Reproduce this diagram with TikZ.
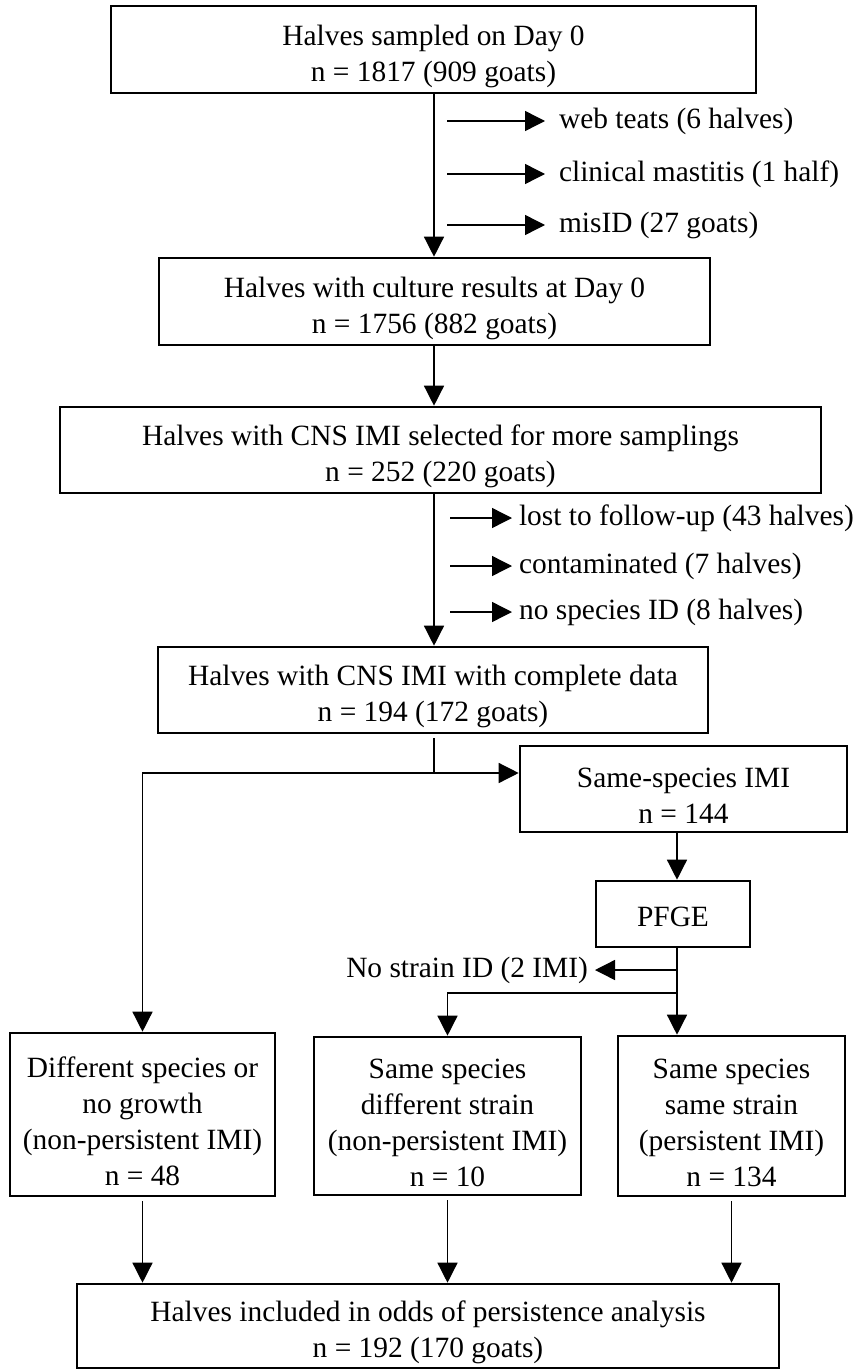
\documentclass[tikz,border=0pt]{standalone}
\usepackage{fontspec}
\setmainfont{Liberation Serif}
\usetikzlibrary{arrows.meta,calc,positioning}

\begin{document}
\begin{tikzpicture}[x = 0.5pt, y = -0.5pt,
        font = \fontsize{14.7}{18}\selectfont,
        box/.style = {draw, line width = 1.3pt, align = center, inner sep = 0pt},
        conn/.style = {line width = 0.7pt, -{Triangle[length = 10pt, width = 10pt]}},
        exclude/.style = {anchor = west},
    ]

        \def\toppad{\rule{0pt}{16.8pt}}

        \useasboundingbox (0, 0) rectangle (859, 1370);

        \coordinate (spine)  at (434, 0);
        \coordinate (spineR) at (677, 0);

        % main boxes
        \node[box, minimum width = 322.5pt, minimum height = 43.5pt] (day0) at (433.5, 49.5) {\toppad Halves sampled on Day 0\\n = 1817 (909 goats)};
        \node[box, minimum width = 275.5pt, minimum height = 43.5pt] (culture) at (434.5, 301.5) {\toppad Halves with culture results at Day 0\\n = 1756 (882 goats)};
        \node[box, minimum width = 380.5pt, minimum height = 43pt] (cnssel) at (440.5, 450) {\toppad Halves with CNS IMI selected for more samplings\\n = 252 (220 goats)};
        \node[box, minimum width = 275pt, minimum height = 43pt] (cnsdata) at (433, 690) {\toppad Halves with CNS IMI with complete data\\n = 194 (172 goats)};
        \node[box, minimum width = 163.5pt, minimum height = 43pt] (same) at (683.5, 789) {\toppad Same-species IMI\\n = 144};
        \node[box, minimum width = 77pt, minimum height = 33pt] (pfge) at (673, 914) {\rule{0pt}{13pt}PFGE};

        % outcome boxes
        \node[box, minimum width = 132.5pt, minimum height = 81.5pt] (diff) at (142.5, 1114.5) {\toppad Different species or\\no growth\\(non-persistent IMI)\\n = 48};
        \node[box, minimum width = 133.5pt, minimum height = 79pt] (diffstrain) at (447.5, 1116) {\toppad Same species\\different strain\\(non-persistent IMI)\\n = 10};
        \node[box, minimum width = 113.5pt, minimum height = 80pt] (samestrain) at (731.5, 1116) {\toppad Same species\\same strain\\(persistent IMI)\\n = 134};
        \node[box, minimum width = 351pt, minimum height = 42pt] (incl) at (428, 1326) {\toppad Halves included in odds of persistence analysis\\n = 192 (170 goats)};

        % main flow
        \draw[conn] (day0.south -| spine) -- (culture.north -| spine);
        \draw[conn] (culture.south -| spine) -- (cnssel.north -| spine);
        \draw[conn] (cnssel.south -| spine) -- (cnsdata.north -| spine);

        % exclusions
        \foreach \y/\lbl/\txt in {121/webteats/web teats (6 halves), 174/mastitis/clinical mastitis (1 half), 225/misid/misID (27 goats)} {
            \node[exclude] (\lbl) at (552, \y) {\txt};
            \draw[conn, shorten >= 3.5pt] ($(spine |- \lbl.west) + (13, 0)$) -- (\lbl.west);
        }
        \foreach \y/\lbl/\txt in {518/lost/lost to follow-up (43 halves), 566/contam/contaminated (7 halves), 612/nospecies/no species ID (8 halves)} {
            \node[exclude] (\lbl) at (512, \y) {\txt};
            \draw[conn] ($(spine |- \lbl.west) + (16, 0)$) -- (\lbl.west);
        }

        % split by species
        \coordinate (split) at (434, 773);
        \draw[conn, shorten <= 2pt] (cnsdata.south -| spine) -- (split) -- (split -| same.west);
        \draw[conn] (split) -- (split -| diff.north) -- (diff.north);

        % PFGE branch
        \node[anchor = east] (nostrain) at (595, 970) {No strain ID (2 IMI)};
        \coordinate (split2) at (677, 993);
        \draw[conn] (same.south -| spineR) -- (pfge.north -| spineR);
        \draw[conn] (pfge.south -| spineR) -- (samestrain.north -| spineR);
        \draw[conn] (spineR |- nostrain.east) -- (nostrain.east);
        \draw[conn] (split2) -- (split2 -| diffstrain.north) -- (diffstrain.north);

        % into the analysis
        \foreach \b in {diff, diffstrain, samestrain} {
            \draw[conn, shorten <= 2pt] (\b.south) -- (\b.south |- incl.north);
        }

\end{tikzpicture}
\end{document}
